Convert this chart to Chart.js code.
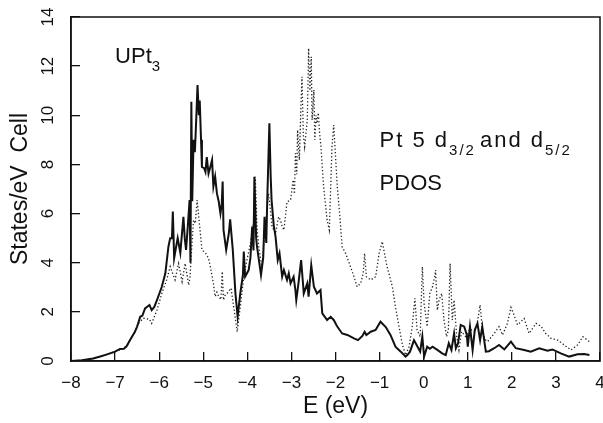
<!DOCTYPE html>
<html>
<head>
<meta charset="utf-8">
<script src="https://cdn.jsdelivr.net/npm/chart.js@4.4.0/dist/chart.umd.min.js"></script>
<style>
  html, body { margin: 0; padding: 0; background: #fff; }
  #wrap { width: 603px; height: 423px; }
</style>
</head>
<body>
<div id="wrap"><canvas id="dos" width="603" height="423"></canvas></div>
<script>
// Pt 5d partial density of states in UPt3: solid and dotted curves (energy in eV, states/eV cell)
const solidEnergy = [
  -8.00, -7.75, -7.50, -7.34, -7.20, -7.00, -6.89, -6.80, -6.74, -6.66,
  -6.55, -6.50, -6.43, -6.38, -6.32, -6.22, -6.17, -6.11, -6.05, -5.94,
  -5.86, -5.79, -5.75, -5.71, -5.69, -5.66, -5.62, -5.58, -5.55, -5.52,
  -5.45, -5.42, -5.39, -5.35, -5.31, -5.29, -5.27, -5.25, -5.22, -5.19,
  -5.16, -5.13, -5.10, -5.08, -5.05, -5.03, -4.98, -4.95, -4.92, -4.88,
  -4.84, -4.80, -4.77, -4.73, -4.69, -4.65, -4.61, -4.58, -4.56, -4.54,
  -4.48, -4.42, -4.39, -4.33, -4.27, -4.22, -4.16, -4.10, -4.08, -4.05,
  -3.97, -3.93, -3.89, -3.86, -3.84, -3.80, -3.78, -3.69, -3.64, -3.61,
  -3.57, -3.55, -3.50, -3.47, -3.45, -3.40, -3.36, -3.31, -3.27, -3.21,
  -3.17, -3.10, -3.06, -3.02, -2.95, -2.91, -2.89, -2.84, -2.78, -2.72,
  -2.64, -2.61, -2.55, -2.49, -2.42, -2.34, -2.30, -2.19, -2.11, -2.04,
  -1.96, -1.85, -1.73, -1.58, -1.49, -1.39, -1.34, -1.30, -1.20, -1.09,
  -0.98, -0.86, -0.75, -0.64, -0.52, -0.41, -0.37, -0.31, -0.22, -0.16,
  -0.08, -0.03, 0.01, 0.08, 0.14, 0.20, 0.31, 0.42, 0.50, 0.57,
  0.63, 0.69, 0.73, 0.78, 0.84, 0.92, 0.98, 1.00, 1.05, 1.11,
  1.16, 1.22, 1.28, 1.33, 1.41, 1.48, 1.60, 1.71, 1.83, 1.98,
  2.09, 2.28, 2.43, 2.62, 2.81, 2.92, 3.11, 3.30, 3.49, 3.64,
  3.76
];
const solidStates = [
  0.00, 0.03, 0.10, 0.18, 0.26, 0.38, 0.49, 0.50, 0.60, 0.85,
  1.19, 1.40, 1.80, 1.85, 2.14, 2.28, 2.07, 2.20, 2.48, 3.02,
  3.57, 4.65, 5.00, 5.00, 6.08, 4.19, 4.60, 5.00, 4.70, 4.40,
  5.87, 5.00, 4.52, 5.50, 6.55, 4.00, 10.55, 6.50, 9.00, 8.50,
  9.80, 11.23, 10.00, 10.60, 9.00, 7.90, 7.85, 7.70, 8.30, 7.63,
  7.90, 8.18, 7.10, 7.50, 6.82, 6.50, 6.00, 6.40, 7.30, 5.33,
  4.52, 5.19, 5.77, 4.52, 2.75, 1.80, 2.75, 3.50, 4.45, 3.43,
  3.70, 4.20, 5.47, 4.50, 7.50, 5.00, 4.65, 3.50, 4.20, 5.87,
  4.80, 6.42, 9.67, 7.50, 6.55, 5.50, 5.06, 4.11, 4.38, 3.43,
  3.70, 3.30, 3.57, 3.16, 3.43, 2.89, 2.48, 3.16, 4.11, 2.75,
  3.16, 2.62, 3.90, 3.02, 2.75, 2.89, 1.94, 1.67, 1.80, 1.67,
  1.40, 1.12, 1.06, 0.92, 0.85, 1.02, 1.19, 1.06, 1.19, 1.26,
  1.60, 1.38, 1.05, 0.58, 0.38, 0.18, 0.24, 0.38, 0.85, 0.65,
  0.38, 0.99, 0.18, 0.58, 0.50, 0.58, 0.45, 0.31, 0.24, 0.72,
  0.45, 1.12, 0.52, 0.72, 1.47, 1.40, 1.06, 0.58, 1.40, 0.45,
  1.26, 1.53, 0.85, 1.40, 0.38, 0.40, 0.52, 0.65, 0.47, 0.79,
  0.52, 0.45, 0.38, 0.52, 0.42, 0.47, 0.31, 0.18, 0.27, 0.28,
  0.24
];

const dottedEnergy = [
  -8.00, -7.75, -7.50, -7.34, -7.20, -7.00, -6.89, -6.80, -6.72, -6.62,
  -6.55, -6.47, -6.36, -6.22, -6.17, -6.05, -5.94, -5.83, -5.75, -5.64,
  -5.56, -5.48, -5.41, -5.33, -5.30, -5.26, -5.22, -5.18, -5.14, -5.11,
  -5.08, -5.03, -4.95, -4.88, -4.84, -4.77, -4.73, -4.69, -4.65, -4.60,
  -4.57, -4.54, -4.50, -4.46, -4.37, -4.31, -4.23, -4.16, -4.08, -4.01,
  -3.95, -3.89, -3.85, -3.82, -3.78, -3.74, -3.67, -3.59, -3.52, -3.48,
  -3.44, -3.36, -3.29, -3.25, -3.21, -3.17, -3.10, -3.02, -2.96, -2.93,
  -2.91, -2.88, -2.86, -2.82, -2.79, -2.76, -2.73, -2.70, -2.64, -2.61,
  -2.58, -2.55, -2.53, -2.49, -2.47, -2.44, -2.42, -2.39, -2.36, -2.33,
  -2.27, -2.19, -2.14, -2.08, -2.04, -1.96, -1.90, -1.85, -1.77, -1.66,
  -1.58, -1.51, -1.43, -1.37, -1.34, -1.30, -1.20, -1.09, -1.01, -0.94,
  -0.86, -0.83, -0.71, -0.64, -0.56, -0.48, -0.41, -0.33, -0.26, -0.20,
  -0.15, -0.08, -0.03, 0.01, 0.08, 0.14, 0.20, 0.25, 0.27, 0.31,
  0.35, 0.41, 0.46, 0.52, 0.56, 0.60, 0.65, 0.69, 0.75, 0.80,
  0.86, 0.95, 1.05, 1.15, 1.22, 1.28, 1.33, 1.38, 1.45, 1.60,
  1.71, 1.79, 1.90, 1.98, 2.05, 2.13, 2.28, 2.39, 2.55, 2.66,
  2.77, 2.89, 3.04, 3.19, 3.34, 3.49, 3.61, 3.76
];
const dottedStates = [
  0.00, 0.03, 0.10, 0.18, 0.26, 0.38, 0.45, 0.52, 0.65, 0.99,
  1.19, 1.53, 1.74, 1.70, 1.53, 2.07, 2.75, 3.30, 3.84, 3.30,
  3.97, 3.23, 3.97, 3.09, 3.43, 4.65, 5.74, 5.60, 6.55, 6.00,
  5.47, 4.52, 4.40, 4.18, 3.84, 3.16, 2.62, 2.80, 2.62, 2.50,
  3.64, 2.48, 2.70, 2.75, 2.96, 2.21, 1.19, 2.21, 3.43, 4.11,
  4.60, 5.19, 5.80, 7.50, 5.40, 4.65, 3.84, 5.47, 6.82, 6.20,
  5.47, 5.19, 5.87, 5.74, 5.47, 5.33, 6.48, 6.55, 7.37, 6.80,
  8.45, 7.60, 9.40, 8.18, 10.00, 11.57, 9.20, 8.72, 9.81, 12.73,
  11.00, 12.38, 9.81, 11.03, 9.00, 10.00, 9.67, 10.10, 9.26, 8.72,
  7.10, 5.74, 5.33, 8.72, 9.60, 7.10, 5.87, 4.65, 4.38, 3.84,
  3.43, 3.02, 3.16, 3.57, 4.38, 3.43, 3.30, 3.43, 4.38, 4.86,
  4.11, 3.84, 3.02, 2.21, 1.40, 0.65, 0.24, 0.58, 1.40, 2.55,
  1.26, 0.99, 3.84, 2.34, 1.40, 2.75, 3.02, 3.43, 3.70, 2.07,
  2.48, 2.75, 1.67, 0.99, 1.26, 3.97, 1.67, 2.48, 0.99, 0.45,
  1.20, 1.00, 1.30, 1.20, 1.60, 2.28, 1.30, 0.90, 0.79, 1.12,
  1.40, 1.06, 1.53, 2.18, 1.87, 1.47, 1.73, 1.12, 1.53, 1.42,
  1.12, 0.92, 0.85, 0.65, 0.45, 0.65, 0.99, 0.79
];

const toPoints = (xs, ys) => xs.map((x, i) => ({ x, y: ys[i] }));
const minusSign = v => String(v).replace('-', '\u2212');

// Fixed axis band sizes, without the extra room Chart.js keeps for end labels
const fixBand = (prop, size) => s => {
  s[prop] = size;
  s.paddingTop = 0; s.paddingBottom = 0; s.paddingLeft = 0; s.paddingRight = 0;
};

// Box around the plotting area (top and right edges included)
const frame = {
  id: 'frame',
  afterDraw(chart) {
    const { ctx, chartArea: a } = chart;
    ctx.save();
    ctx.strokeStyle = '#111';
    ctx.lineWidth = 1.5;
    ctx.strokeRect(a.left, a.top, a.right - a.left, a.bottom - a.top);
    ctx.restore();
  }
};

// In-plot labels with subscripts, anchored in data coordinates
const labels = {
  id: 'labels',
  afterDraw(chart) {
    const { ctx, scales: { x, y } } = chart;
    const run = (parts, e, v, spacing) => {
      let px = x.getPixelForValue(e);
      const py = y.getPixelForValue(v);
      parts.forEach(p => {
        ctx.font = p.sub ? '15px "Liberation Sans"' : '22px "Liberation Sans"';
        ctx.letterSpacing = (spacing || 0) + 'px';
        ctx.fillText(p.t, px, py + (p.sub ? 8 : 0));
        px += ctx.measureText(p.t).width + (p.gap || 0);
      });
    };
    ctx.save();
    ctx.fillStyle = '#111';
    ctx.textBaseline = 'alphabetic';
    ctx.textAlign = 'left';
    run([{ t: 'UPt' }, { t: '3', sub: true }], -7.0, 12.13, 0);
    run([{ t: 'Pt 5 d' }, { t: '3/2', sub: true, gap: 4 }, { t: 'and d' }, { t: '5/2', sub: true }], -1.0, 8.71, 2);
    run([{ t: 'PDOS' }], -1.0, 6.96, 0);
    ctx.restore();
  }
};

new Chart(document.getElementById('dos'), {
  type: 'line',
  data: {
    datasets: [
      {
        data: toPoints(solidEnergy, solidStates),
        borderColor: '#111',
        borderWidth: 2,
        pointRadius: 0,
        tension: 0,
        fill: false
      },
      {
        data: toPoints(dottedEnergy, dottedStates),
        borderColor: '#222',
        borderWidth: 1.3,
        borderDash: [1.3, 2.2],
        pointRadius: 0,
        tension: 0,
        fill: false
      }
    ]
  },
  options: {
    responsive: false,
    animation: false,
    devicePixelRatio: 1,
    layout: { padding: { top: 17, right: 3, left: 0, bottom: 0 } },
    plugins: { legend: { display: false }, tooltip: { enabled: false } },
    scales: {
      x: {
        type: 'linear',
        min: -8,
        max: 4,
        afterFit: fixBand('height', 62),
        ticks: {
          stepSize: 1,
          padding: 21,
          color: '#111',
          font: { family: 'Liberation Sans', size: 17 },
          callback: v => minusSign(v)
        },
        grid: { drawOnChartArea: false, tickLength: -9, color: '#111', lineWidth: 1.3 },
        border: { color: '#111', width: 1.5 },
        title: {
          display: true,
          text: 'E (eV)',
          color: '#111',
          font: { family: 'Liberation Sans', size: 23 },
          padding: { top: 0, bottom: 3 }
        }
      },
      y: {
        min: 0,
        max: 14,
        afterFit: fixBand('width', 71),
        ticks: {
          stepSize: 2,
          minRotation: 90,
          maxRotation: 90,
          crossAlign: 'center',
          padding: 22.5,
          color: '#111',
          font: { family: 'Liberation Sans', size: 17 }
        },
        grid: { drawOnChartArea: false, tickLength: -9, color: '#111', lineWidth: 1.3 },
        border: { color: '#111', width: 1.5 },
        title: {
          display: true,
          text: 'States/eV  Cell',
          color: '#111',
          font: { family: 'Liberation Sans', size: 23 },
          padding: { top: 7, bottom: 0 }
        }
      }
    }
  },
  plugins: [frame, labels]
});
</script>
</body>
</html>
